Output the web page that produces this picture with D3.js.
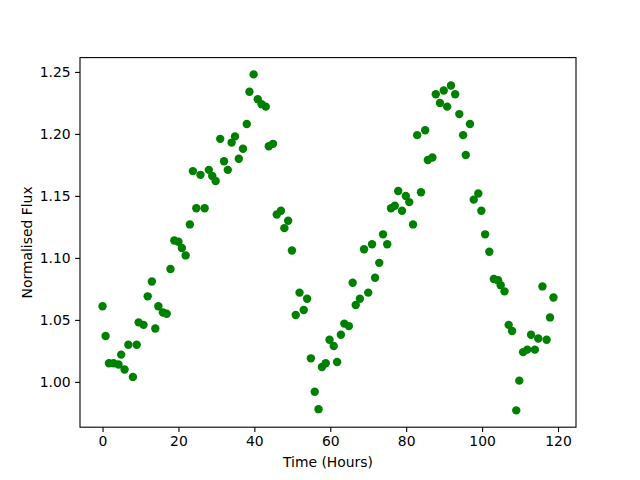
<!DOCTYPE html>
<html>
<head>
<meta charset="utf-8">
<script src="https://cdn.jsdelivr.net/npm/d3@7"></script>
<style>
  html, body { margin: 0; padding: 0; background: #fff; }
  svg { display: block; }
  text { font-family: "DejaVu Sans", sans-serif; fill: #000; }
</style>
</head>
<body>
<script>
// Observation times (hours)
const hours = [
  0.0, 0.8, 1.7, 2.9, 4.2, 4.9, 5.8, 6.8, 8.0, 9.0,
  9.5, 10.8, 11.9, 13.0, 13.9, 14.7, 15.9, 16.9, 17.9, 18.9,
  20.0, 20.9, 21.9, 23.0, 23.8, 24.7, 25.8, 26.9, 28.0, 28.9,
  29.8, 31.0, 32.0, 33.0, 34.0, 34.9, 35.9, 37.0, 38.0, 38.7,
  39.8, 40.9, 41.9, 43.0, 43.8, 44.9, 45.9, 47.0, 47.9, 48.9,
  49.9, 50.9, 51.9, 53.0, 53.9, 54.9, 55.9, 56.9, 57.8, 58.8,
  59.8, 60.9, 61.8, 62.8, 63.7, 64.9, 65.9, 66.7, 67.8, 68.9,
  70.0, 71.0, 71.8, 72.9, 73.9, 75.0, 76.0, 77.0, 77.9, 78.9,
  79.9, 80.8, 81.8, 82.9, 83.9, 85.0, 85.7, 86.9, 87.8, 88.9,
  89.9, 90.8, 91.8, 92.9, 94.0, 95.0, 95.7, 96.8, 97.8, 99.0,
  99.8, 100.8, 101.9, 103.1, 104.2, 104.9, 105.9, 107.0, 107.9, 109.0,
  109.8, 110.8, 111.9, 112.9, 113.9, 114.8, 115.9, 117.0, 117.9, 118.8
];
// Normalised flux values
const flux = [
  1.061, 1.037, 1.015, 1.015, 1.014, 1.022, 1.010, 1.030, 1.004, 1.030,
  1.048, 1.046, 1.069, 1.081, 1.043, 1.061, 1.056, 1.055, 1.091, 1.114,
  1.113, 1.108, 1.102, 1.127, 1.170, 1.140, 1.167, 1.140, 1.171, 1.166,
  1.162, 1.196, 1.178, 1.171, 1.193, 1.198, 1.180, 1.188, 1.208, 1.234,
  1.248, 1.228, 1.224, 1.222, 1.190, 1.192, 1.135, 1.138, 1.124, 1.130,
  1.106, 1.054, 1.072, 1.058, 1.067, 1.019, 0.992, 0.978, 1.012, 1.015,
  1.034, 1.029, 1.016, 1.038, 1.047, 1.045, 1.080, 1.062, 1.067, 1.107,
  1.072, 1.111, 1.084, 1.096, 1.119, 1.111, 1.140, 1.142, 1.154, 1.138,
  1.150, 1.145, 1.127, 1.199, 1.153, 1.203, 1.179, 1.181, 1.232, 1.225,
  1.235, 1.222, 1.239, 1.232, 1.216, 1.199, 1.183, 1.208, 1.147, 1.152,
  1.138, 1.119, 1.105, 1.083, 1.082, 1.078, 1.073, 1.046, 1.041, 0.977,
  1.001, 1.024, 1.026, 1.038, 1.026, 1.035, 1.077, 1.034, 1.052, 1.068
];
const xTicks = [0, 20, 40, 60, 80, 100, 120];
const yTicks = [1.00, 1.05, 1.10, 1.15, 1.20, 1.25];
const xTitle = "Time (Hours)";
const yTitle = "Normalised Flux";

const W = 640, H = 480;
const mLeft = 80, mRight = 576, mTop = 57.6, mBottom = 427.2;

const svg = d3.select("body").append("svg").attr("width", W).attr("height", H);

function padded(ext) {
  const m = (ext[1] - ext[0]) * 0.05;
  return [ext[0] - m, ext[1] + m];
}
const x = d3.scaleLinear().domain(padded(d3.extent(hours))).range([mLeft, mRight]);
const y = d3.scaleLinear().domain(padded(d3.extent(flux))).range([mBottom, mTop]);

const data = hours.map((h, i) => ({ h, f: flux[i] }));

svg.append("g")
  .selectAll("circle")
  .data(data)
  .join("circle")
  .attr("cx", d => x(d.h))
  .attr("cy", d => y(d.f))
  .attr("r", 4.2)
  .attr("fill", "#008000");

// Frame
svg.append("rect")
  .attr("x", mLeft).attr("y", mTop)
  .attr("width", mRight - mLeft).attr("height", mBottom - mTop)
  .attr("fill", "none").attr("stroke", "#000").attr("stroke-width", 1.1);

const xAxis = svg.append("g")
  .attr("transform", `translate(0,${mBottom})`)
  .call(d3.axisBottom(x).tickValues(xTicks).tickFormat(d3.format("d")).tickSize(4.9).tickPadding(4.5));
const yAxis = svg.append("g")
  .attr("transform", `translate(${mLeft},0)`)
  .call(d3.axisLeft(y).tickValues(yTicks).tickFormat(d3.format(".2f")).tickSize(4.9).tickPadding(4.5));

[xAxis, yAxis].forEach(g => {
  g.select(".domain").remove();
  g.selectAll(".tick line").attr("stroke", "#000").attr("stroke-width", 1.1);
  g.selectAll(".tick text").attr("font-size", "13.9px").attr("font-family", "DejaVu Sans, sans-serif").attr("fill", "#000");
});

svg.append("text")
  .attr("x", (mLeft + mRight) / 2).attr("y", 467)
  .attr("text-anchor", "middle")
  .attr("font-size", "13.9px")
  .text(xTitle);

svg.append("text")
  .attr("transform", `translate(31.5,${(mTop + mBottom) / 2}) rotate(-90)`)
  .attr("text-anchor", "middle")
  .attr("font-size", "13.9px")
  .text(yTitle);
</script>
</body>
</html>
